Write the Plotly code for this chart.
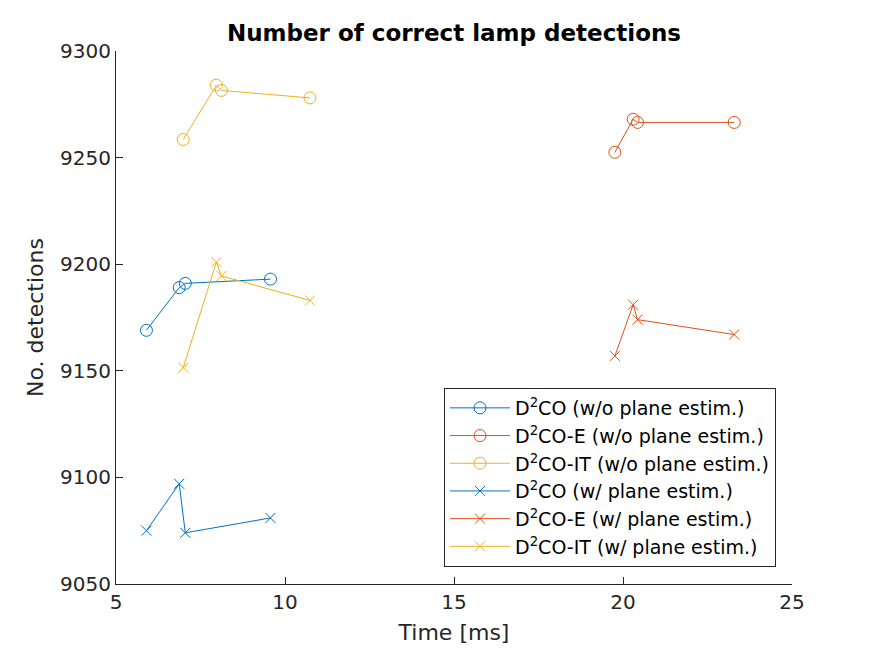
import plotly.graph_objects as go

# Data
time_d2co = [5.90, 6.87, 7.05, 9.57]
time_d2coe = [19.76, 20.30, 20.43, 23.29]
time_d2coit = [6.99, 7.97, 8.12, 10.74]

det_d2co_noplane = [9169, 9189, 9191, 9193]
det_d2coe_noplane = [9252.5, 9268, 9266.5, 9266.5]
det_d2coit_noplane = [9258.5, 9284, 9281.5, 9278]

det_d2co_plane = [9075, 9097, 9074, 9081]
det_d2coe_plane = [9157, 9181, 9174, 9167]
det_d2coit_plane = [9151.5, 9201, 9194.5, 9183]

names = [
    "D<sup>2</sup>CO (w/o plane estim.)",
    "D<sup>2</sup>CO-E (w/o plane estim.)",
    "D<sup>2</sup>CO-IT (w/o plane estim.)",
    "D<sup>2</sup>CO (w/ plane estim.)",
    "D<sup>2</sup>CO-E (w/ plane estim.)",
    "D<sup>2</sup>CO-IT (w/ plane estim.)",
]

x_ticks = [5, 10, 15, 20, 25]
y_ticks = [9050, 9100, 9150, 9200, 9250, 9300]

colors = ["#0072BD", "#D95319", "#EDB120"]

series = [
    (time_d2co, det_d2co_noplane, colors[0], "circle-open", 12),
    (time_d2coe, det_d2coe_noplane, colors[1], "circle-open", 12),
    (time_d2coit, det_d2coit_noplane, colors[2], "circle-open", 12),
    (time_d2co, det_d2co_plane, colors[0], "x-thin-open", 10),
    (time_d2coe, det_d2coe_plane, colors[1], "x-thin-open", 10),
    (time_d2coit, det_d2coit_plane, colors[2], "x-thin-open", 10),
]

fig = go.Figure()
for (xs, ys, c, sym, sz), nm in zip(series, names):
    fig.add_trace(go.Scatter(
        x=xs, y=ys, mode="lines+markers", name=nm,
        line=dict(color=c, width=1),
        marker=dict(symbol=sym, size=sz, color=c, line=dict(color=c, width=1)),
    ))

axis_common = dict(
    showgrid=False, zeroline=False, showline=True, linecolor="#262626", linewidth=1,
    ticks="inside", ticklen=7, tickcolor="#262626", tickwidth=1,
    tickfont=dict(family="DejaVu Sans", size=20, color="#262626"),
    mirror=False, automargin=False,
)

# page body adds ~7px offset; compensate in margins
L, T = 108, 43
PW, PH = 676, 533

fig.update_layout(
    width=875, height=656,
    margin=dict(l=L, r=875 - L - PW, t=T, b=656 - T - PH, autoexpand=False),
    paper_bgcolor="white", plot_bgcolor="white",
    font=dict(family="DejaVu Sans", color="#262626"),
    title=dict(text="<b>Number of correct lamp detections</b>",
               font=dict(family="DejaVu Sans", size=23, color="black"),
               x=0.5, xref="paper", xanchor="center",
               y=1 - 25 / 656, yref="container", yanchor="middle", automargin=False),
    xaxis=dict(range=[5, 25], tickvals=x_ticks, ticktext=[str(v) for v in x_ticks],
               title=dict(text="Time [ms]", font=dict(size=22, color="#262626"), standoff=11),
               **axis_common),
    yaxis=dict(range=[9050, 9300], tickvals=y_ticks, ticktext=[str(v) for v in y_ticks],
               title=dict(text="No. detections", font=dict(size=22, color="#262626"), standoff=10),
               **axis_common),
    legend=dict(
        x=(775 - 115) / 676, y=(583 - 566) / 533, xanchor="right", yanchor="bottom",
        bgcolor="white", bordercolor="#262626", borderwidth=1,
        font=dict(family="DejaVu Sans", size=19, color="black"),
        itemwidth=60, tracegroupgap=0,
    ),
    showlegend=True,
)

fig.write_html("out.html")
